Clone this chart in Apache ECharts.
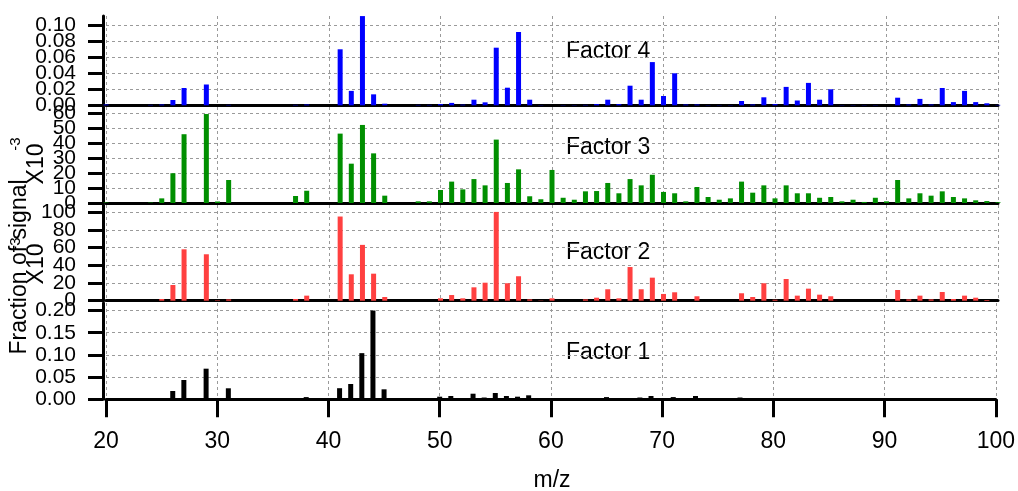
<!DOCTYPE html>
<html>
<head>
<meta charset="utf-8">
<script src="https://cdn.jsdelivr.net/npm/echarts@6/dist/echarts.min.js"></script>
<style>
  html, body { margin: 0; padding: 0; background: #fff; }
  #main { width: 1018px; height: 491px; }
</style>
</head>
<body>
<div id="main"></div>
<script>
// m/z values 20..100
var mzList = [20,21,22,23,24,25,26,27,28,29,30,31,32,33,34,35,36,37,38,39,40,
  41,42,43,44,45,46,47,48,49,50,51,52,53,54,55,56,57,58,59,60,
  61,62,63,64,65,66,67,68,69,70,71,72,73,74,75,76,77,78,79,80,
  81,82,83,84,85,86,87,88,89,90,91,92,93,94,95,96,97,98,99,100];

// Factor 4 (fraction of signal)
var factor4 = [0.001,0,0,0,0.0005,0.001,0.0066,0.0216,0,0.026,0,0.0005,0,0,0,0,0,0.0005,0.001,0,0,
  0.070,0.018,0.1115,0.0137,0.002,0,0,0.0005,0.0005,0.0015,0.003,0.0008,0.007,0.0037,0.072,0.022,0.0916,0.007,0.0003,0,
  0.0003,0.0003,0.0005,0.0015,0.007,0.0015,0.0245,0.007,0.054,0.0116,0.040,0.001,0.001,0.0003,0.0003,0.0003,0.0054,0.001,0.010,0.0015,
  0.023,0.006,0.028,0.007,0.020,0.0003,0.0003,0.0003,0.0003,0,0.0095,0.001,0.008,0.001,0.0216,0.004,0.018,0.004,0.0025,0.0005];

// Factor 3 (x10^-3)
var factor3 = [0.3,0,0,0,0.3,3.1,19.9,46,0,59.5,1.0,15.4,0,0,0,0,0,4.7,8.2,0,0,
  46.4,26.3,52.2,33.2,4.9,0,0,1.1,1.1,8.7,14.3,9.1,16.0,11.8,42.4,13.4,22.5,4.5,2.5,22.1,
  3.5,2.2,7.8,8.0,13.4,6.5,16.0,11.8,18.9,7.4,6.5,1.1,10.7,4.0,2.2,3.1,14.3,6.9,11.8,3.1,
  11.8,6.5,6.5,3.5,4.0,1.1,2.2,0.7,3.5,1.1,15.4,3.1,6.5,4.9,7.8,4.0,3.1,1.8,1.3,0.5];

// Factor 2 (x10^-3)
var factor2 = [0,0,0,0,-0.8,1.9,17.7,58,0,52.4,0.5,1.5,0,0,0,0,0,1.9,5.7,0,0,
  95,29.8,63,30.5,4.2,0,0,-1,-1,2.7,6.4,2.7,15.1,20.3,100.2,19.7,27.6,1.5,0.3,2.7,
  0,0,1.5,3.4,12.9,2.7,38,12.9,26,7.6,9.5,0,5.0,0,-0.5,-0.5,8.4,4.2,19.7,1.1,
  24.5,5.7,13.6,6.8,5.0,-0.5,0,-1,0,-0.5,12.1,1.5,5.7,1.5,9.8,1.9,5.7,3.4,0.8,0];

// Factor 1 (fraction of signal)
var factor1 = [0,0,0,0,0,0.0014,0.0187,0.0435,0,0.069,0.001,0.0248,0,0,0,0,0,0.0014,0.005,0,0,
  0.025,0.0345,0.104,0.200,0.0225,0,0,0.0005,0.0005,0.0059,0.0074,0.003,0.0126,0.004,0.0142,0.0074,0.0059,0.009,0.003,0.0014,
  0.0005,0.0005,0.0005,0.003,0.005,0.0015,0.003,0.004,0.0074,0.003,0.005,0.0005,0.0074,0.002,0.001,0.001,0.004,0.001,0.003,0.001,
  0.002,0.001,0.002,0.001,0.002,0.001,0.001,0,0,0.001,0.003,0.001,0.001,0,0.002,0.001,0.002,0,0.001,0];

// tick values
var xTicks = [20, 30, 40, 50, 60, 70, 80, 90, 100];
var yTicks4 = [0, 0.02, 0.04, 0.06, 0.08, 0.10];
var yTicks3 = [0, 10, 20, 30, 40, 50, 60];
var yTicks2 = [0, 20, 40, 60, 80, 100];
var yTicks1 = [0, 0.05, 0.10, 0.15, 0.20];
var factorNames = ['Factor 4', 'Factor 3', 'Factor 2', 'Factor 1'];

var FONT = '"Liberation Sans", Arial, Helvetica, sans-serif';

function pairs(vals) {
  var out = [];
  for (var i = 0; i < vals.length; i++) out.push([mzList[i], vals[i]]);
  return out;
}

var panels = [
  { data: factor4, ticks: yTicks4, color: '#0000ff', top: 16, height: 89.3, max: 0.1116, dec: 2 },
  { data: factor3, ticks: yTicks3, color: '#008f00', top: 107, height: 96, max: 64.2, dec: 0 },
  { data: factor2, ticks: yTicks2, color: '#ff4040', top: 205, height: 95.7, max: 108, dec: 0 },
  { data: factor1, ticks: yTicks1, color: '#000000', top: 303, height: 96.3, max: 0.217, dec: 2 }
];

// labels overlap in the original, so split them over two axes (even / odd ticks)
function pick(list, parity) {
  return list.filter(function (v, k) { return k % 2 === parity; });
}

var myChart = echarts.init(document.getElementById('main'), null, { renderer: 'canvas' });

var grids = [], xAxes = [], yAxes = [], series = [];
panels.forEach(function (p, i) {
  var isBottom = (i === panels.length - 1);
  var interval = p.ticks[1] - p.ticks[0];
  var fmt = function (v) { return v.toFixed(p.dec); };
  grids.push({ left: 106, right: 20, top: p.top, height: p.height, containLabel: false });
  xAxes.push({
    type: 'value', gridIndex: i, min: xTicks[0], max: xTicks[xTicks.length - 1], interval: 10,
    axisLine: { show: true, onZero: false, lineStyle: { color: '#000', width: 3 } },
    axisTick: { show: isBottom, length: 18, lineStyle: { color: '#000', width: 3 } },
    axisLabel: { show: isBottom, color: '#000', fontSize: 23, fontFamily: FONT, margin: 31 },
    splitLine: { show: true, lineStyle: { color: '#9a9a9a', type: [3, 3], width: 1 } }
  });
  var mainIdx = yAxes.length;
  yAxes.push({
    type: 'value', gridIndex: i, position: 'left', min: 0, max: p.max, interval: interval, offset: 3,
    axisLine: { show: true, lineStyle: { color: '#000', width: 3 } },
    axisTick: { show: true, length: 15, customValues: p.ticks, lineStyle: { color: '#000', width: 3 } },
    axisLabel: {
      color: '#000', fontSize: 21, fontFamily: FONT, margin: 27,
      customValues: pick(p.ticks, 0), formatter: fmt
    },
    splitLine: { show: true, lineStyle: { color: '#9a9a9a', type: [3, 3], width: 1 } }
  });
  yAxes.push({
    type: 'value', gridIndex: i, position: 'left', min: 0, max: p.max, interval: interval, offset: 3,
    axisLine: { show: false }, axisTick: { show: false }, splitLine: { show: false },
    axisLabel: {
      color: '#000', fontSize: 21, fontFamily: FONT, margin: 27,
      customValues: pick(p.ticks, 1), formatter: fmt
    }
  });
  series.push({
    type: 'bar', xAxisIndex: i, yAxisIndex: mainIdx, barWidth: 5,
    itemStyle: { color: p.color },
    data: pairs(p.data), animation: false
  });
});

var labelY = [52, 148, 253, 353];
var graphics = factorNames.map(function (name, i) {
  return {
    type: 'text', x: 566, y: labelY[i],
    style: { text: name, font: '23px ' + FONT, fill: '#000', align: 'left', verticalAlign: 'middle' }
  };
});
graphics.push({
  type: 'text', x: 552, y: 481,
  style: { text: 'm/z', font: '23px ' + FONT, fill: '#000', align: 'center', verticalAlign: 'middle' }
});
graphics.push({
  type: 'text', x: 20, y: 267, rotation: Math.PI / 2,
  style: { text: 'Fraction of signal', font: '23px ' + FONT, fill: '#000', align: 'center', verticalAlign: 'middle' }
});
[164, 264].forEach(function (cy) {
  graphics.push({
    type: 'text', x: 37, y: cy, rotation: Math.PI / 2,
    style: { text: 'X10', font: '23px ' + FONT, fill: '#000', align: 'center', verticalAlign: 'middle' }
  });
  graphics.push({
    type: 'text', x: 16, y: cy - 20, rotation: Math.PI / 2,
    style: { text: '-3', font: '15px ' + FONT, fill: '#000', align: 'center', verticalAlign: 'middle' }
  });
});

var option = {
  backgroundColor: '#ffffff',
  animation: false,
  grid: grids,
  xAxis: xAxes,
  yAxis: yAxes,
  series: series,
  graphic: graphics
};
myChart.setOption(option);
</script>
</body>
</html>
